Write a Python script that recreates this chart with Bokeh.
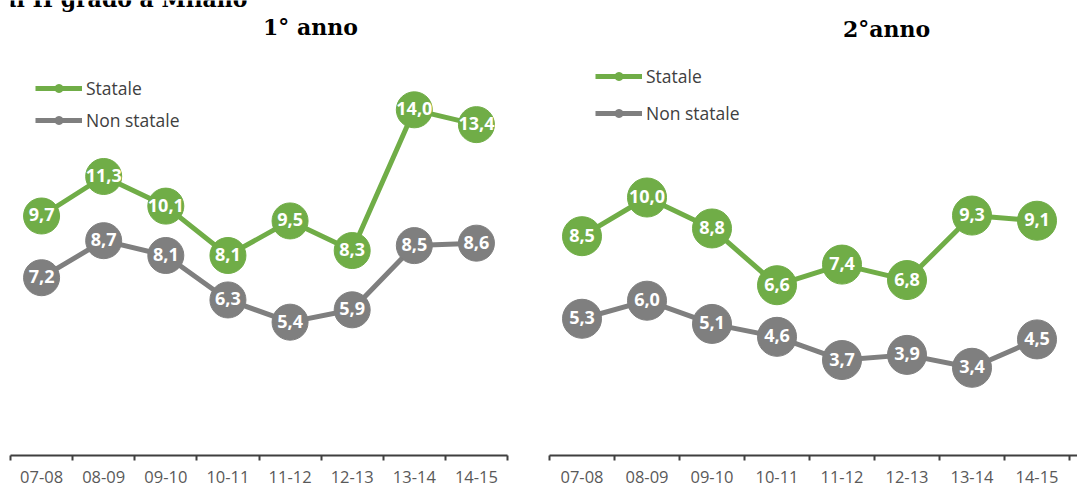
from bokeh.plotting import figure
from bokeh.models import (Range1d, LinearAxis, FixedTicker, Label, Legend, LegendItem,
                          ColumnDataSource)
from bokeh.layouts import row
from bokeh.embed import file_html
from bokeh.resources import INLINE
from bokeh.core.properties import value

# ---- data ----
years = ["07-08", "08-09", "09-10", "10-11", "11-12", "12-13", "13-14", "14-15"]
statale_1 = [9.7, 11.3, 10.1, 8.1, 9.5, 8.3, 14.0, 13.4]
non_statale_1 = [7.2, 8.7, 8.1, 6.3, 5.4, 5.9, 8.5, 8.6]
statale_2 = [8.5, 10.0, 8.8, 6.6, 7.4, 6.8, 9.3, 9.1]
non_statale_2 = [5.3, 6.0, 5.1, 4.6, 3.7, 3.9, 3.4, 4.5]
series_names = ["Statale", "Non statale"]
titles = ["1° anno", "2°anno"]
header = "di II grado a Milano"

GREEN = "#70AD47"
GRAY = "#7F7F7F"
TXT = "#404040"
FONT = "Open Sans"
SERIF = "DejaVu Serif"


def fmt(v):
    return f"{v:.1f}".replace(".", ",")


def panel(title, s_vals, n_vals, width, bl, br, bb, yr, xr_extra, msize, leg_loc,
          leg_spacing, title_pos, head=None):
    height = 488
    fh = height - bb
    p = figure(width=width, height=height, output_backend="svg", toolbar_location=None,
               x_range=Range1d(0, len(years) + xr_extra), y_range=yr,
               x_axis_location=None, y_axis_location=None,
               min_border_left=bl, min_border_right=br, min_border_top=0,
               min_border_bottom=bb)
    p.outline_line_color = None
    p.xgrid.visible = False
    p.ygrid.visible = False
    p.background_fill_color = None
    p.border_fill_color = "white"

    centers = [i + 0.5 for i in range(len(years))]
    ax = LinearAxis(ticker=FixedTicker(ticks=centers, minor_ticks=list(range(len(years) + 1))),
                    major_label_overrides={c: y for c, y in zip(centers, years)})
    ax.axis_line_color = "#3F3F3F"
    ax.axis_line_width = 2
    ax.major_tick_line_color = None
    ax.major_tick_out = 0
    ax.major_tick_in = 0
    ax.minor_tick_line_color = "#3F3F3F"
    ax.minor_tick_line_width = 2
    ax.minor_tick_out = 5
    ax.minor_tick_in = 0
    ax.major_label_text_font = FONT
    ax.major_label_text_font_size = "16.5px"
    ax.major_label_text_color = "#595959"
    ax.major_label_standoff = 10
    p.add_layout(ax, "below")

    leg_rend = {}
    for name, vals, col in ((series_names[1], n_vals, GRAY), (series_names[0], s_vals, GREEN)):
        src = ColumnDataSource(dict(x=centers, y=vals, t=[fmt(v) for v in vals]))
        lr = p.line("x", "y", source=src, line_width=5, line_color=col)
        sm = p.scatter("x", "y", source=src, size=9, fill_color=col, line_color=col)
        p.scatter("x", "y", source=src, size=msize, fill_color=col, line_color=col)
        p.text("x", "y", text="t", source=src, text_color="white",
               text_font=value(FONT), text_font_style="bold",
               text_font_size="18px", text_align="center", text_baseline="middle",
               y_offset=-1)
        leg_rend[name] = [lr, sm]

    items = [LegendItem(label=n, renderers=leg_rend[n]) for n in series_names]
    leg = Legend(items=items, location=leg_loc, orientation="vertical",
                 glyph_width=47, glyph_height=20, label_height=20,
                 label_standoff=4, spacing=leg_spacing, padding=0, margin=0,
                 border_line_color=None, background_fill_alpha=0,
                 label_text_font=FONT, label_text_font_size="17.5px",
                 label_text_color=TXT, label_text_baseline="middle")
    p.add_layout(leg)

    tx, ty = title_pos
    p.add_layout(Label(x=tx, y=fh - ty, x_units="screen", y_units="screen", text=title,
                       text_font=SERIF, text_font_style="bold",
                       text_font_size="22px", text_color="black",
                       text_align="center", text_baseline="middle"))
    if head:
        p.add_layout(Label(x=head[0], y=fh - head[1], x_units="screen", y_units="screen",
                           text=header, text_font=SERIF,
                           text_font_style="bold", text_font_size="22px",
                           text_color="black", text_align="right",
                           text_baseline="alphabetic"))
    return p


p1 = panel(titles[0], statale_1, non_statale_1, 538, 10, 31, 31,
           Range1d(0, 457 / 24.8), 0, 36, (25, 323), 8, (300, 28), head=(237, 0))
p2 = panel(titles[1], statale_2, non_statale_2, 539, 11, 0, 33,
           Range1d(0, 455 / 25.8), 8 / 65, 39, (46, 330), 13, (337, 28))

layout = row(p1, p2)
open("out.html", "w").write(file_html(layout, INLINE))
